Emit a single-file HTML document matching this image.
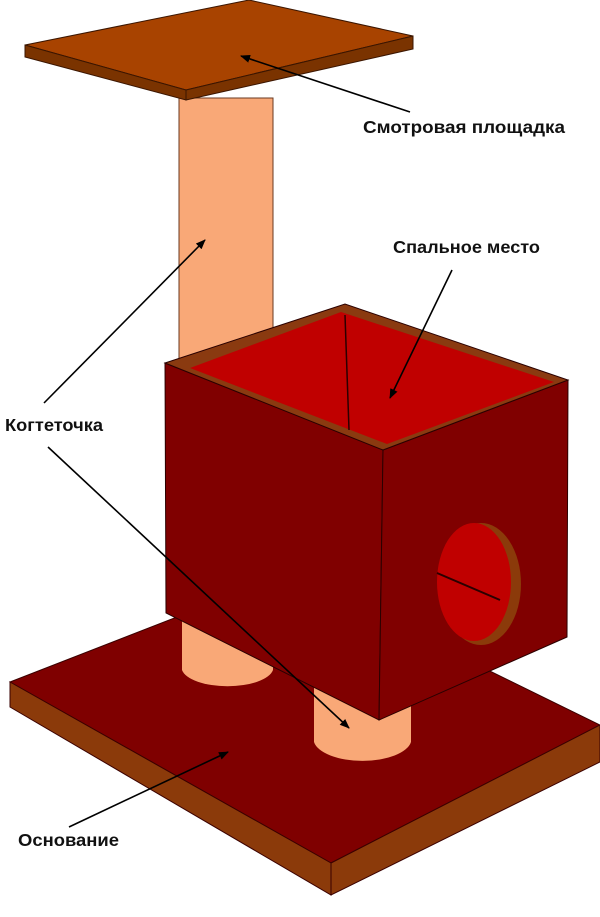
<!DOCTYPE html>
<html><head><meta charset="utf-8"><style>
html,body{margin:0;padding:0;background:#fff;}
svg{display:block}
text{font-family:"Liberation Sans",sans-serif;font-weight:bold;font-size:17.5px;fill:#111}
</style></head><body>
<svg width="600" height="917" viewBox="0 0 600 917" xmlns="http://www.w3.org/2000/svg">
<defs><marker id="a" markerWidth="10" markerHeight="8" refX="9" refY="4" orient="auto" markerUnits="userSpaceOnUse"><path d="M0,0 L10,4 L0,8 Z" fill="#000"/></marker></defs>
<!-- base -->
<polygon points="10,682 290,573 600,725 331,863" fill="#7f0000" stroke="#3a0000" stroke-width="1"/>
<polygon points="10,682 331,863 331,895 10,707" fill="#8b3a0a" stroke="#3a0000" stroke-width="1"/>
<polygon points="331,863 600,725 600,762 331,895" fill="#8b3a0a" stroke="#3a0000" stroke-width="1"/>
<!-- legs -->
<path d="M182,600 L182,670 A46,19 0 0 0 273,670 L273,600 Z" fill="#f9a877"/>
<path d="M314,680 L314,742 A49,22 0 0 0 411,742 L411,680 Z" fill="#f9a877"/>
<!-- post -->
<rect x="179" y="98" width="94" height="280" fill="#f9a877" stroke="#6a3a20" stroke-width="1"/>
<!-- top board -->
<polygon points="25,45 249,0 413,36 186,90" fill="#a84300" stroke="#3a1500" stroke-width="1"/>
<polygon points="25,45 186,90 186,100 25,57" fill="#7a3300" stroke="#3a1500" stroke-width="1"/>
<polygon points="186,90 413,36 413,49 186,100" fill="#7a3300" stroke="#3a1500" stroke-width="1"/>
<!-- box -->
<polygon points="165,363 383,450 379,720 166,613" fill="#800000" stroke="#2a0000" stroke-width="1"/>
<polygon points="383,450 568,380 567,637 379,720" fill="#800000" stroke="#2a0000" stroke-width="1"/>
<polygon points="165,363 345,304 568,380 383,450" fill="#8a3a10" stroke="#2a0000" stroke-width="1"/>
<polygon points="190,368 341,312 554,382 387,444" fill="#c00000"/>
<line x1="345" y1="315" x2="349" y2="430" stroke="#2a0000" stroke-width="1.5"/>
<!-- hole -->
<ellipse cx="481" cy="584" rx="40" ry="61" fill="#8b3a0a"/>
<ellipse cx="474" cy="582" rx="37" ry="59" fill="#c00000"/>
<line x1="437" y1="573" x2="500" y2="600" stroke="#2a0000" stroke-width="2"/>
<!-- arrows -->
<g stroke="#000" stroke-width="1.6" fill="none" marker-end="url(#a)">
<line x1="410" y1="112" x2="241" y2="56"/>
<line x1="44" y1="403" x2="205" y2="240"/>
<line x1="48" y1="447" x2="349" y2="728"/>
<line x1="452" y1="270" x2="390" y2="398"/>
<line x1="69" y1="827" x2="228" y2="752"/>
</g>
<text x="363" y="133" textLength="202" lengthAdjust="spacingAndGlyphs">Смотровая площадка</text>
<text x="393" y="253" textLength="147" lengthAdjust="spacingAndGlyphs">Спальное место</text>
<text x="5" y="431" textLength="98" lengthAdjust="spacingAndGlyphs">Когтеточка</text>
<text x="18" y="846" textLength="101" lengthAdjust="spacingAndGlyphs">Основание</text>
</svg>
</body></html>
